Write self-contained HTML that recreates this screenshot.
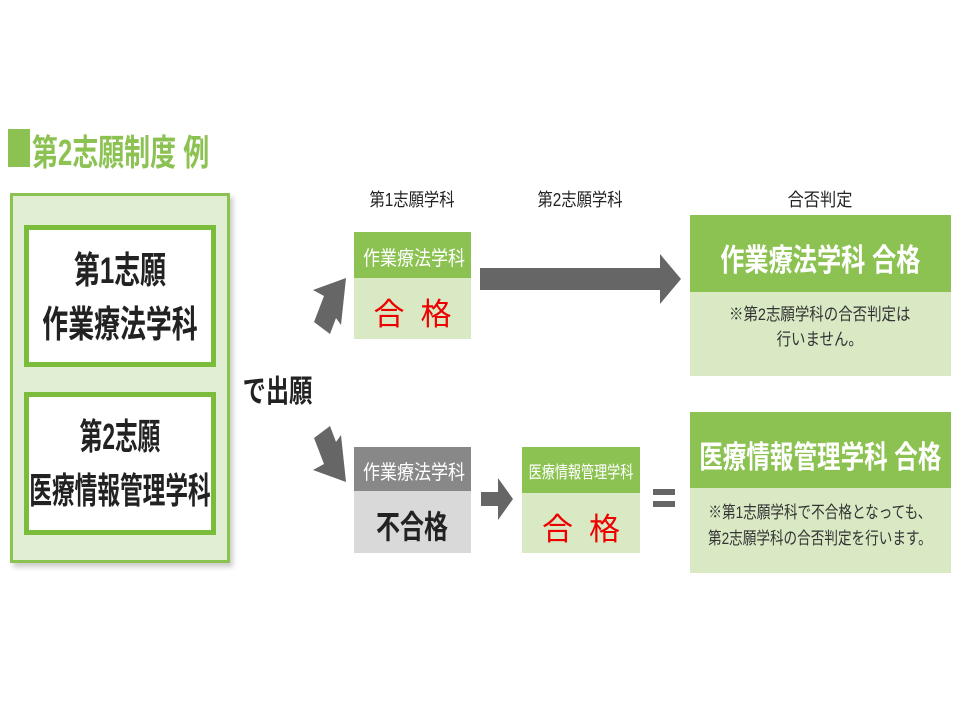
<!DOCTYPE html>
<html><head><meta charset="utf-8"><style>
body{margin:0;width:960px;height:720px;background:#fff;position:relative;overflow:hidden;font-family:"Liberation Sans","Noto Sans CJK JP",sans-serif;}
.a{position:absolute;}
.c{position:absolute;text-align:center;white-space:nowrap;}
.b{font-weight:bold;}
.s{display:inline-block;transform-origin:center;}
</style></head><body>
<div class="a" style="left:8px;top:129px;width:22px;height:38px;background:#8cc252"></div>
<div class="a b" style="left:32px;top:124px;font-size:36px;color:#8cc252;white-space:nowrap;"><span class="s" style="transform:scaleX(0.72);transform-origin:left;">第2志願制度 例</span></div>

<div class="a" style="left:10px;top:193px;width:214px;height:364px;background:#e2eed4;border:3px solid #8cc252;box-shadow:3px 4px 5px #ccc;"></div>
<div class="a" style="left:24px;top:225px;width:182px;height:132px;background:#fff;border:5px solid #7cbc3c;"></div>
<div class="c b" style="left:-80px;top:244px;width:400px;font-size:37px;line-height:54px;color:#222;"><span class="s" style="transform:scaleX(0.7)">第1志願<br>作業療法学科</span></div>
<div class="a" style="left:24px;top:392px;width:182px;height:133px;background:#fff;border:5px solid #7cbc3c;"></div>
<div class="c b" style="left:-80px;top:410px;width:400px;font-size:36px;line-height:54px;color:#222;"><span class="s" style="transform:scaleX(0.63)">第2志願<br>医療情報管理学科</span></div>
<div class="c b" style="left:231px;top:366px;width:80px;font-size:31px;color:#222;"><span class="s" style="transform:scaleX(0.75)">で出願</span></div>

<svg class="a" style="left:0;top:0" width="960" height="720">
<g fill="#666">
<polygon points="314,322 330,334 336,318 341,325 346,278 313,290 324,296" />
<polygon points="314,438 330,426 336,442 341,435 346,482 313,470 324,464" />
<polygon points="480,268 660,268 660,254 681,279 660,304 660,290 480,290"/>
<polygon points="481,492 498,492 498,478 513,499 498,520 498,506 481,506"/>
<rect x="653" y="489" width="22" height="6"/>
<rect x="653" y="501" width="22" height="6"/>
</g>
</svg>

<div class="c" style="left:352px;top:186px;width:120px;font-size:18px;color:#222;"><span class="s" style="transform:scaleX(0.85)">第1志願学科</span></div>
<div class="c" style="left:520px;top:186px;width:120px;font-size:18px;color:#222;"><span class="s" style="transform:scaleX(0.85)">第2志願学科</span></div>
<div class="c" style="left:760px;top:186px;width:120px;font-size:18px;color:#222;"><span class="s" style="transform:scaleX(0.9)">合否判定</span></div>

<div class="a" style="left:354px;top:232px;width:117px;height:46px;background:#8cc252"></div>
<div class="a" style="left:354px;top:278px;width:117px;height:61px;background:#d8e9c4"></div>
<div class="c" style="left:354px;top:242px;width:117px;font-size:20px;color:#fff;"><span class="s" style="transform:scaleX(0.85)">作業療法学科</span></div>
<div class="c" style="left:354px;top:289px;width:117px;font-size:31px;color:#e00;"><span style="margin-right:16px">合</span>格</div>

<div class="a" style="left:354px;top:447px;width:117px;height:44px;background:#888"></div>
<div class="a" style="left:354px;top:491px;width:117px;height:62px;background:#d9d9d9"></div>
<div class="c" style="left:354px;top:456px;width:117px;font-size:20px;color:#fff;"><span class="s" style="transform:scaleX(0.85)">作業療法学科</span></div>
<div class="c b" style="left:354px;top:502px;width:117px;font-size:32px;color:#222;"><span class="s" style="transform:scaleX(0.75)">不合格</span></div>

<div class="a" style="left:522px;top:447px;width:118px;height:46px;background:#8cc252"></div>
<div class="a" style="left:522px;top:493px;width:118px;height:60px;background:#d8e9c4"></div>
<div class="c" style="left:481px;top:458px;width:200px;font-size:17px;color:#fff;"><span class="s" style="transform:scaleX(0.77)">医療情報管理学科</span></div>
<div class="c" style="left:522px;top:504px;width:118px;font-size:31px;color:#e00;"><span style="margin-right:16px">合</span>格</div>

<div class="a" style="left:690px;top:215px;width:261px;height:77px;background:#8cc252"></div>
<div class="a" style="left:690px;top:292px;width:261px;height:84px;background:#d8e9c4"></div>
<div class="c b" style="left:620px;top:235px;width:400px;font-size:31px;color:#fff;"><span class="s" style="transform:scaleX(0.78)">作業療法学科 合格</span></div>
<div class="c" style="left:620px;top:302px;width:400px;font-size:17px;line-height:25px;color:#333;"><span class="s" style="transform:scaleX(0.85)">※第2志願学科の合否判定は<br>行いません。</span></div>

<div class="a" style="left:690px;top:412px;width:261px;height:76px;background:#8cc252"></div>
<div class="a" style="left:690px;top:488px;width:261px;height:85px;background:#d8e9c4"></div>
<div class="c b" style="left:620px;top:432px;width:400px;font-size:31px;color:#fff;"><span class="s" style="transform:scaleX(0.76)">医療情報管理学科 合格</span></div>
<div class="c" style="left:620px;top:500px;width:400px;font-size:17px;line-height:26px;color:#333;"><span class="s" style="transform:scaleX(0.8)">※第1志願学科で不合格となっても、<br>第2志願学科の合否判定を行います。</span></div>
</body></html>
